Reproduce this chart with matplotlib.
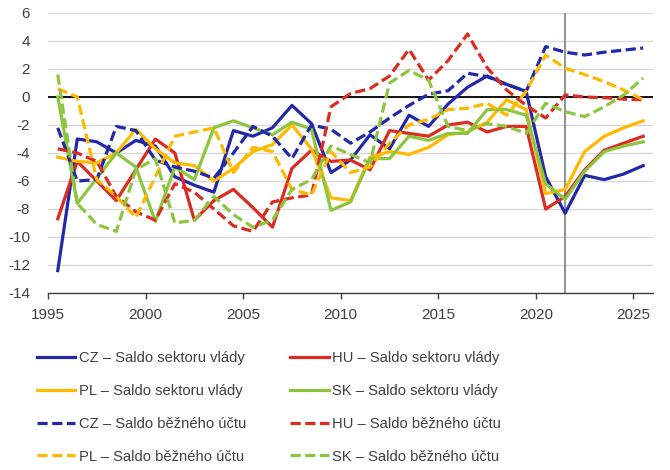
import matplotlib.pyplot as plt
import numpy as np

plt.rcParams['font.family'] = ['Liberation Sans', 'DejaVu Sans']
plt.rcParams['axes.unicode_minus'] = False

years = list(range(1995, 2026))

# saldo sektoru vlady (% HDP)
cz_gov = [-12.4, -3.0, -3.2, -4.0, -3.1, -3.5, -5.7, -6.3, -6.8, -2.4, -2.8,
          -2.2, -0.6, -1.9, -5.4, -4.5, -2.7, -3.7, -1.3, -2.1, -0.5,
          0.7, 1.5, 0.9, 0.4, -5.7, -8.3, -5.6, -5.9, -5.5, -4.9]
hu_gov = [-8.7, -4.6, -6.0, -7.4, -5.2, -3.0, -4.0, -8.8, -7.4, -6.6, -7.9,
          -9.3, -5.1, -3.8, -4.6, -4.5, -5.2, -2.4, -2.6, -2.8, -2.0,
          -1.8, -2.5, -2.1, -2.1, -8.0, -7.1, -5.2, -3.8, -3.3, -2.8]
pl_gov = [-4.3, -4.6, -4.7, -4.0, -2.3, -3.7, -4.7, -4.9, -6.0, -5.1, -3.9,
          -3.4, -2.0, -3.7, -7.2, -7.4, -4.3, -3.9, -4.1, -3.6, -2.7,
          -2.5, -1.8, -0.2, -0.9, -6.9, -6.6, -3.9, -2.8, -2.2, -1.7]
sk_gov = [0.0, -7.6, -5.8, -4.0, -5.0, -8.9, -5.0, -5.9, -2.2, -1.7, -2.2,
          -2.7, -1.8, -2.3, -8.1, -7.5, -4.4, -4.4, -2.8, -3.1, -2.6,
          -2.6, -0.9, -0.9, -1.3, -6.2, -7.3, -5.3, -3.9, -3.5, -3.2]

# saldo bezneho uctu (% HDP)
cz_ca = [-2.2, -6.0, -5.9, -2.1, -2.4, -4.5, -5.0, -5.3, -5.8, -4.0, -2.1,
         -2.8, -4.4, -2.0, -2.3, -3.3, -2.5, -1.5, -0.6, 0.2, 0.45,
         1.7, 1.45, 0.9, 0.4, 3.6, 3.2, 3.0, 3.2, 3.35, 3.5]
hu_ca = [-3.7, -4.0, -4.6, -7.1, -8.2, -8.8, -6.2, -6.8, -8.0, -9.2, -9.6,
         -7.5, -7.2, -7.0, -0.7, 0.25, 0.6, 1.5, 3.4, 1.2, 2.6,
         4.5, 2.1, 0.5, -0.6, -1.5, 0.15, 0.0, -0.05, -0.15, -0.2]
pl_ca = [0.6, 0.0, -5.9, -7.1, -8.6, -5.7, -2.8, -2.5, -2.2, -5.4, -3.6,
         -3.9, -6.6, -7.0, -3.9, -5.4, -5.0, -3.3, -2.0, -1.6, -0.9,
         -0.8, -0.45, -1.3, 0.4, 3.0, 2.05, 1.6, 1.1, 0.5, -0.2]
sk_ca = [1.6, -7.6, -9.1, -9.6, -5.2, -4.4, -9.0, -8.8, -7.1, -8.4, -9.3,
         -8.8, -6.6, -5.9, -3.5, -4.1, -4.7, 1.0, 1.9, 1.2, -2.1,
         -2.4, -1.9, -2.1, -2.6, -0.45, -1.05, -1.4, -0.7, 0.15, 1.35]

forecast_start = 2021

blue = '#2328a8'
red = '#dc2b20'
yellow = '#ffb900'
green = '#8cc63e'
txt = '#404040'

fig = plt.figure(figsize=(6.7, 4.7), dpi=100)
ax = fig.add_axes([48 / 670, 1 - 293 / 470, 605 / 670, 280 / 470])

# mid-year points, like an Excel date axis
x = np.array(years) + 0.5

ax.axhline(0, color='black', lw=1.3, zorder=2)
ax.axvline(forecast_start + 0.5, color='#7f7f7f', lw=1.2, zorder=2)

lw = 2.3
dash = (3.2, 1.4)
lines = {}
lines['cz_gov'], = ax.plot(x, cz_gov, color=blue, lw=lw, label='CZ – Saldo sektoru vlády', zorder=3)
lines['hu_gov'], = ax.plot(x, hu_gov, color=red, lw=lw, label='HU – Saldo sektoru vlády', zorder=3)
lines['pl_gov'], = ax.plot(x, pl_gov, color=yellow, lw=lw, label='PL – Saldo sektoru vlády', zorder=3)
lines['sk_gov'], = ax.plot(x, sk_gov, color=green, lw=lw, label='SK – Saldo sektoru vlády', zorder=3)
lines['cz_ca'], = ax.plot(x, cz_ca, color=blue, lw=lw, dashes=dash, label='CZ – Saldo běžného účtu', zorder=3)
lines['hu_ca'], = ax.plot(x, hu_ca, color=red, lw=lw, dashes=dash, label='HU – Saldo běžného účtu', zorder=3)
lines['pl_ca'], = ax.plot(x, pl_ca, color=yellow, lw=lw, dashes=dash, label='PL – Saldo běžného účtu', zorder=3)
lines['sk_ca'], = ax.plot(x, sk_ca, color=green, lw=lw, dashes=dash, label='SK – Saldo běžného účtu', zorder=3)

ax.set_xlim(1995, 2026)
ax.set_ylim(-14, 6)
ax.set_yticks(np.arange(-14, 7, 2))
ax.set_xticks(np.arange(1995, 2026, 5))
ax.yaxis.grid(True, color='#d9d9d9', lw=1.0, zorder=0)
ax.set_axisbelow(True)

for s in ['left', 'right', 'top']:
    ax.spines[s].set_visible(False)
ax.spines['bottom'].set_color('#404040')
ax.spines['bottom'].set_linewidth(1.0)
ax.tick_params(axis='y', length=0, pad=13, labelsize=11, labelcolor=txt)
ax.tick_params(axis='x', length=4, width=1.0, color='#404040', pad=7,
               labelsize=11, labelcolor=txt)

# legend is filled column by column
order = ['cz_gov', 'pl_gov', 'cz_ca', 'pl_ca', 'hu_gov', 'sk_gov', 'hu_ca', 'sk_ca']
handles = [lines[k] for k in order]
fig.legend(handles, [h.get_label() for h in handles], ncol=2, frameon=False,
           loc='upper left', bbox_to_anchor=(37 / 670, 1 - 351 / 470),
           borderaxespad=0, borderpad=0, fontsize=10.6, labelcolor=txt,
           handlelength=2.6, handletextpad=0.25, columnspacing=3.0,
           labelspacing=1.28)

fig.savefig('out.png', dpi=100)
